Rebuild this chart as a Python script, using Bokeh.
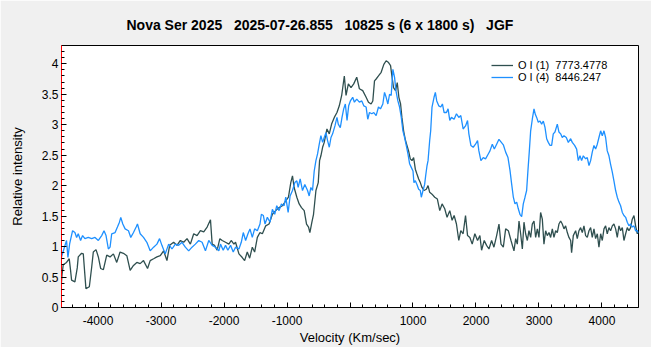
from bokeh.plotting import figure
from bokeh.models import FixedTicker, Legend, LegendItem, Range1d
from bokeh.embed import file_html
from bokeh.resources import INLINE

title_text = "Nova Ser 2025\u00a0\u00a0\u00a02025-07-26.855\u00a0\u00a0\u00a010825 s (6 x 1800 s)\u00a0\u00a0\u00a0JGF"
x_label = "Velocity (Km/sec)"
y_label = "Relative intensity"
series_names = ["O I (1)\u00a0\u00a07773.4778", "O I (4)\u00a0\u00a08446.247"]

x_ticks = [-4000, -3000, -2000, -1000, 0, 1000, 2000, 3000, 4000]
x_tick_labels = ["-4000", "-3000", "-2000", "-1000", "", "1000", "2000", "3000", "4000"]
x_minor = list(range(-4400, 4401, 200))
y_ticks = [0, 0.5, 1, 1.5, 2, 2.5, 3, 3.5, 4]
y_tick_labels = ["0", "0.5", "1", "1.5", "2", "2.5", "3", "3.5", "4"]
y_minor = [i / 10 for i in range(0, 43)]

# O I (1) 7773.4778
v1 = [-4590, -4570, -4553, -4500, -4457, -4435, -4420, -4367, -4330, -4314, -4261, -4234,
      -4210, -4192, -4138, -4101, -4075, -4032, -3995, -3958, -3915, -3862, -3809, -3756,
      -3703, -3650, -3597, -3543, -3490, -3437, -3384, -3331, -3278, -3214, -3172, -3118,
      -3065, -3012, -2959, -2906, -2863, -2800, -2747, -2693, -2640, -2587, -2534, -2481,
      -2428, -2375, -2322, -2268, -2215, -2188, -2151, -2109, -2066, -2029, -1976, -1923,
      -1886, -1843, -1817, -1763, -1710, -1673, -1631, -1593, -1551, -1514, -1471, -1429,
      -1391, -1338, -1285, -1232, -1179, -1126, -1073, -1020, -977, -940, -913, -887,
      -844, -807, -770, -727, -690, -658, -637, -605, -579, -541, -504, -483, -462, -435,
      -409, -366, -329, -292, -249, -207, -170, -132, -90, -63, -26, 16, 59, 107, 149, 202,
      256, 293, 335, 362, 389, 415, 452, 495, 537, 574, 612, 644, 665, 691, 723, 750, 776,
      803, 824, 851, 877, 904, 930, 957, 984, 1010, 1037, 1063, 1090, 1116, 1143, 1175,
      1212, 1239, 1265, 1302, 1345, 1387, 1425, 1462, 1504, 1541, 1584, 1621, 1653, 1690,
      1727, 1759, 1796, 1834, 1866, 1903, 1940, 1982, 2025, 2062, 2089, 2131, 2168, 2206,
      2248, 2285, 2328, 2365, 2397, 2434, 2471, 2514, 2556, 2603, 2630, 2656, 2683, 2709,
      2736, 2762, 2788, 2815, 2841, 2868, 2894, 2921, 2947, 2974, 3000, 3026, 3053, 3079,
      3106, 3132, 3159, 3185, 3212, 3238, 3265, 3291, 3317, 3344, 3370, 3397, 3423, 3450,
      3476, 3503, 3518, 3545, 3582, 3608, 3635, 3661, 3688, 3714, 3741, 3767, 3794, 3820,
      3846, 3873, 3899, 3926, 3952, 3979, 4005, 4032, 4058, 4084, 4111, 4137, 4164, 4190,
      4217, 4243, 4270, 4296, 4323, 4349, 4376, 4402, 4428, 4455, 4481, 4508, 4534, 4561,
      4580]
i1 = [0.28, 0.55, 0.70, 0.74, 0.80, 0.60, 0.45, 0.42, 0.65, 0.83, 0.89, 0.88,
      0.55, 0.31, 0.34, 0.66, 0.91, 0.95, 0.83, 0.64, 0.62, 0.86, 0.83, 0.88,
      0.74, 0.91, 0.89, 0.85, 0.61, 0.69, 0.74, 0.72, 0.77, 0.64, 0.77, 0.80,
      0.83, 0.85, 0.93, 0.77, 1.02, 1.07, 1.02, 1.10, 1.07, 1.13, 1.04, 1.21,
      1.18, 1.26, 1.24, 1.32, 1.44, 1.04, 1.02, 0.94, 1.13, 1.10, 1.07, 1.04,
      1.10, 1.04, 1.07, 0.88, 0.82, 0.77, 0.91, 0.81, 0.99, 0.91, 1.15, 1.23,
      1.21, 1.34, 1.37, 1.53, 1.59, 1.64, 1.67, 1.75, 1.81, 2.05, 2.16, 1.97,
      1.81, 1.70, 1.64, 1.59, 1.37, 1.32, 1.23, 1.40, 1.53, 1.92, 2.05, 2.41, 2.49, 2.63,
      2.71, 2.93, 2.85, 3.01, 3.12, 3.20, 3.31, 3.48, 3.80, 3.48, 3.67, 3.61, 3.67, 3.78, 3.59, 3.56,
      3.45, 3.37, 3.34, 3.39, 3.72, 3.75, 3.80, 3.86, 3.99, 4.05, 4.02, 3.97, 3.80, 3.61, 3.56, 3.69, 3.45,
      3.34, 3.12, 2.90, 2.76, 2.66, 2.57, 2.44, 2.41, 2.46, 2.27, 2.19, 2.11, 2.05, 1.97, 1.92,
      1.94, 2.00, 1.89, 1.86, 1.81, 1.78, 1.59, 1.70, 1.62, 1.48, 1.59, 1.43, 1.51, 1.37,
      1.10, 1.26, 1.21, 1.51, 1.18, 1.15, 1.04, 1.21, 1.10, 1.18, 0.94, 1.10, 1.02, 0.96,
      1.10, 0.99, 1.18, 1.37, 1.04, 0.99, 1.29, 1.26, 1.10, 0.93, 1.13, 1.04, 1.42, 1.21,
      0.96, 1.40, 1.21, 1.10, 1.26, 1.15, 1.37, 1.42, 1.15, 1.29, 1.15, 1.56, 1.45, 1.04,
      1.26, 1.18, 1.23, 1.15, 1.29, 1.15, 1.26, 1.23, 1.37, 1.42, 1.37, 1.29, 1.34, 1.23,
      1.15, 1.10, 0.90, 1.18, 1.26, 1.13, 1.26, 1.31, 1.23, 1.34, 1.18, 1.15, 1.26, 1.31,
      1.15, 1.29, 1.13, 1.21, 0.99, 1.21, 1.10, 1.29, 1.34, 1.21, 1.31, 1.26, 1.34, 1.37,
      1.29, 1.15, 1.34, 1.26, 1.31, 1.10, 1.21, 1.31, 1.26, 1.31, 1.45, 1.51, 1.34, 1.21,
      1.25]

# O I (4) 8446.247
v4 = [-4585, -4574, -4542, -4500, -4478, -4450, -4404, -4367, -4340, -4314, -4277, -4245,
      -4208, -4155, -4101, -4048, -3995, -3942, -3905, -3873, -3836, -3809, -3783, -3729,
      -3692, -3660, -3639, -3607, -3570, -3517, -3480, -3437, -3395, -3374, -3331, -3278,
      -3225, -3172, -3118, -3065, -3023, -2986, -2933, -2879, -2826, -2773, -2720, -2667,
      -2614, -2561, -2508, -2455, -2401, -2348, -2295, -2242, -2188, -2135, -2082, -2056,
      -2013, -1976, -1939, -1896, -1854, -1817, -1763, -1726, -1694, -1657, -1620, -1588,
      -1551, -1514, -1471, -1429, -1407, -1376, -1349, -1312, -1269, -1232, -1195, -1163,
      -1126, -1089, -1046, -1020, -982, -951, -913, -876, -844, -823, -791, -754, -717,
      -674, -648, -621, -595, -568, -541, -515, -488, -462, -435, -409, -382, -356, -329,
      -302, -276, -239, -207, -186, -154, -127, -100, -74, -47, -21, 6, 43, 70, 107, 149,
      187, 219, 256, 282, 309, 346, 378, 415, 452, 484, 521, 548, 574, 601, 628, 654, 681,
      707, 729, 760, 787, 814, 840, 867, 893, 920, 946, 973, 1000, 1015, 1037, 1063, 1090,
      1116, 1132, 1159, 1185, 1201, 1223, 1239, 1265, 1281, 1302, 1334, 1355, 1377, 1409,
      1441, 1467, 1494, 1531, 1557, 1584, 1610, 1653, 1690, 1727, 1759, 1796, 1834, 1866,
      1887, 1919, 1956, 1993, 2025, 2046, 2078, 2115, 2152, 2195, 2222, 2259, 2291, 2328,
      2365, 2434, 2471, 2508, 2540, 2566, 2593, 2619, 2646, 2672, 2698, 2725, 2751, 2778,
      2804, 2825, 2847, 2868, 2894, 2921, 2942, 2963, 2989, 3016, 3042, 3069, 3095, 3122,
      3148, 3175, 3201, 3227, 3254, 3291, 3317, 3344, 3370, 3397, 3434, 3466, 3503, 3529,
      3566, 3598, 3624, 3651, 3677, 3704, 3741, 3767, 3794, 3820, 3846, 3873, 3899, 3926,
      3952, 3979, 4005, 4032, 4058, 4084, 4111, 4137, 4164, 4190, 4217, 4243, 4270, 4296,
      4323, 4349, 4376, 4402, 4428, 4455, 4481, 4508, 4534, 4561, 4580]
i4 = [0.80, 0.85, 0.96, 1.10, 0.82, 1.05, 1.26, 1.23, 1.15, 1.21, 1.10, 1.18,
      1.13, 1.15, 1.13, 1.15, 1.10, 1.18, 1.26, 1.18, 0.96, 0.99, 1.21, 1.23,
      1.32, 1.40, 1.48, 1.37, 1.29, 1.26, 1.15, 1.23, 1.32, 1.37, 1.21, 1.15,
      1.07, 0.93, 0.99, 1.04, 1.13, 1.02, 0.88, 1.04, 0.96, 1.04, 1.02, 1.07,
      0.99, 0.93, 0.99, 1.04, 1.10, 1.07, 0.93, 1.10, 1.02, 0.99, 0.93, 1.04,
      0.94, 1.02, 0.94, 1.02, 0.91, 0.99, 0.96, 1.07, 1.23, 1.10, 1.21, 1.29,
      1.15, 1.29, 1.26, 1.37, 1.53, 1.51, 1.37, 1.48, 1.40, 1.61, 1.53, 1.67,
      1.59, 1.70, 1.67, 1.81, 1.56, 1.83, 1.92, 2.05, 2.08, 1.97, 2.11, 1.92, 2.02,
      1.92, 1.83, 1.97, 1.92, 2.24, 2.41, 2.52, 2.68, 2.82, 2.71, 2.79, 2.87, 2.74, 2.63,
      2.79, 2.85, 2.98, 3.12, 3.01, 2.95, 3.12, 3.26, 3.34, 3.07, 3.31, 3.39, 3.45, 3.37, 3.42, 3.37,
      3.39, 3.31, 3.29, 3.09, 3.20, 3.18, 3.20, 3.15, 3.29, 3.26, 3.34, 3.53, 3.45, 3.34, 3.50, 3.48, 3.91,
      3.78, 3.56, 3.39, 3.29, 3.12, 2.90, 2.79, 2.66, 2.52, 2.36, 2.30, 2.24, 2.05, 2.08, 2.02, 1.94,
      1.92, 1.81, 1.92, 2.02, 2.16, 2.33, 2.41, 2.74, 2.90, 3.29, 3.45, 3.53, 3.39, 3.31,
      3.29, 3.34, 3.20, 3.20, 3.26, 3.07, 3.12, 3.09, 3.18, 3.12, 3.15, 2.93, 2.98, 3.07,
      2.85, 2.66, 2.63, 2.68, 2.74, 2.57, 2.41, 2.46, 2.44, 2.52, 2.57, 2.68, 2.60, 2.68,
      2.76, 2.67, 2.55, 2.46, 2.25, 2.03, 1.81, 1.70, 1.73, 1.62, 1.53, 1.49, 1.70, 1.81,
      1.92, 2.25, 2.57, 2.90, 3.09, 3.26, 3.17, 3.12, 3.04, 3.06, 3.01, 3.06, 2.96, 2.77,
      2.71, 2.66, 2.66, 2.85, 2.88, 3.01, 2.88, 2.85, 2.79, 2.82, 2.79, 2.71, 2.77, 2.71,
      2.66, 2.60, 2.41, 2.49, 2.41, 2.49, 2.44, 2.46, 2.33, 2.41, 2.55, 2.66, 2.60, 2.68,
      2.79, 2.90, 2.82, 2.90, 2.79, 2.57, 2.49, 2.35, 2.22, 2.08, 1.92, 1.81, 1.73, 1.67,
      1.56, 1.51, 1.48, 1.40, 1.34, 1.37, 1.32, 1.34, 1.26, 1.26, 1.22]

FONT = "Liberation Sans"

p = figure(width=651, height=347, x_range=Range1d(-4580, 4580), y_range=Range1d(0, 4.3),
           output_backend="svg", toolbar_location=None,
           min_border_left=61, min_border_right=13, min_border_top=45, min_border_bottom=40,
           background_fill_color="white", border_fill_color="#f0f0f0",
           outline_line_color="black", outline_line_width=1)
p.grid.visible = False
p.title.text = title_text
p.title.align = "left"
p.title.offset = 65
p.title.standoff = 26
p.title.text_font = FONT
p.title.text_font_size = "14px"
p.title.text_font_style = "bold"
p.title.text_color = "black"

r1 = p.line(v1, i1, line_color="#2f4f4f", line_width=1.3)
r4 = p.line(v4, i4, line_color="#1e90ff", line_width=1.3)

xa = p.xaxis[0]
xa.ticker = FixedTicker(ticks=x_ticks, minor_ticks=x_minor)
xa.major_label_overrides = {t: l for t, l in zip(x_ticks, x_tick_labels)}
ya = p.yaxis[0]
ya.ticker = FixedTicker(ticks=y_ticks, minor_ticks=y_minor)
ya.major_label_overrides = {t: l for t, l in zip(y_ticks, y_tick_labels)}
for ax in (xa, ya):
    ax.major_tick_in = 5
    ax.major_tick_out = 0
    ax.minor_tick_in = 3
    ax.minor_tick_out = 0
    ax.major_tick_line_color = "black"
    ax.minor_tick_line_color = "black"
    ax.major_label_text_font = FONT
    ax.major_label_text_font_size = "12px"
    ax.major_label_text_color = "black"
    ax.axis_label_text_font = FONT
    ax.axis_label_text_font_size = "13px"
    ax.axis_label_text_font_style = "normal"
    ax.axis_label_text_color = "black"
xa.axis_line_color = "black"
xa.major_label_standoff = 8
xa.axis_label = x_label
xa.axis_label_standoff = 2
ya.axis_line_color = "red"
ya.major_label_standoff = 3
ya.axis_label = y_label
ya.axis_label_standoff = 14

legend = Legend(items=[LegendItem(label=series_names[0], renderers=[r1]),
                       LegendItem(label=series_names[1], renderers=[r4])],
                location=(430, 224), orientation="vertical",
                border_line_color=None, background_fill_alpha=0,
                padding=0, margin=0, spacing=0,
                glyph_width=22, glyph_height=12, label_height=12, label_standoff=5,
                label_text_font=FONT, label_text_font_size="11px", label_text_color="black")
p.add_layout(legend)

open("out.html", "w").write(file_html(p, INLINE))
